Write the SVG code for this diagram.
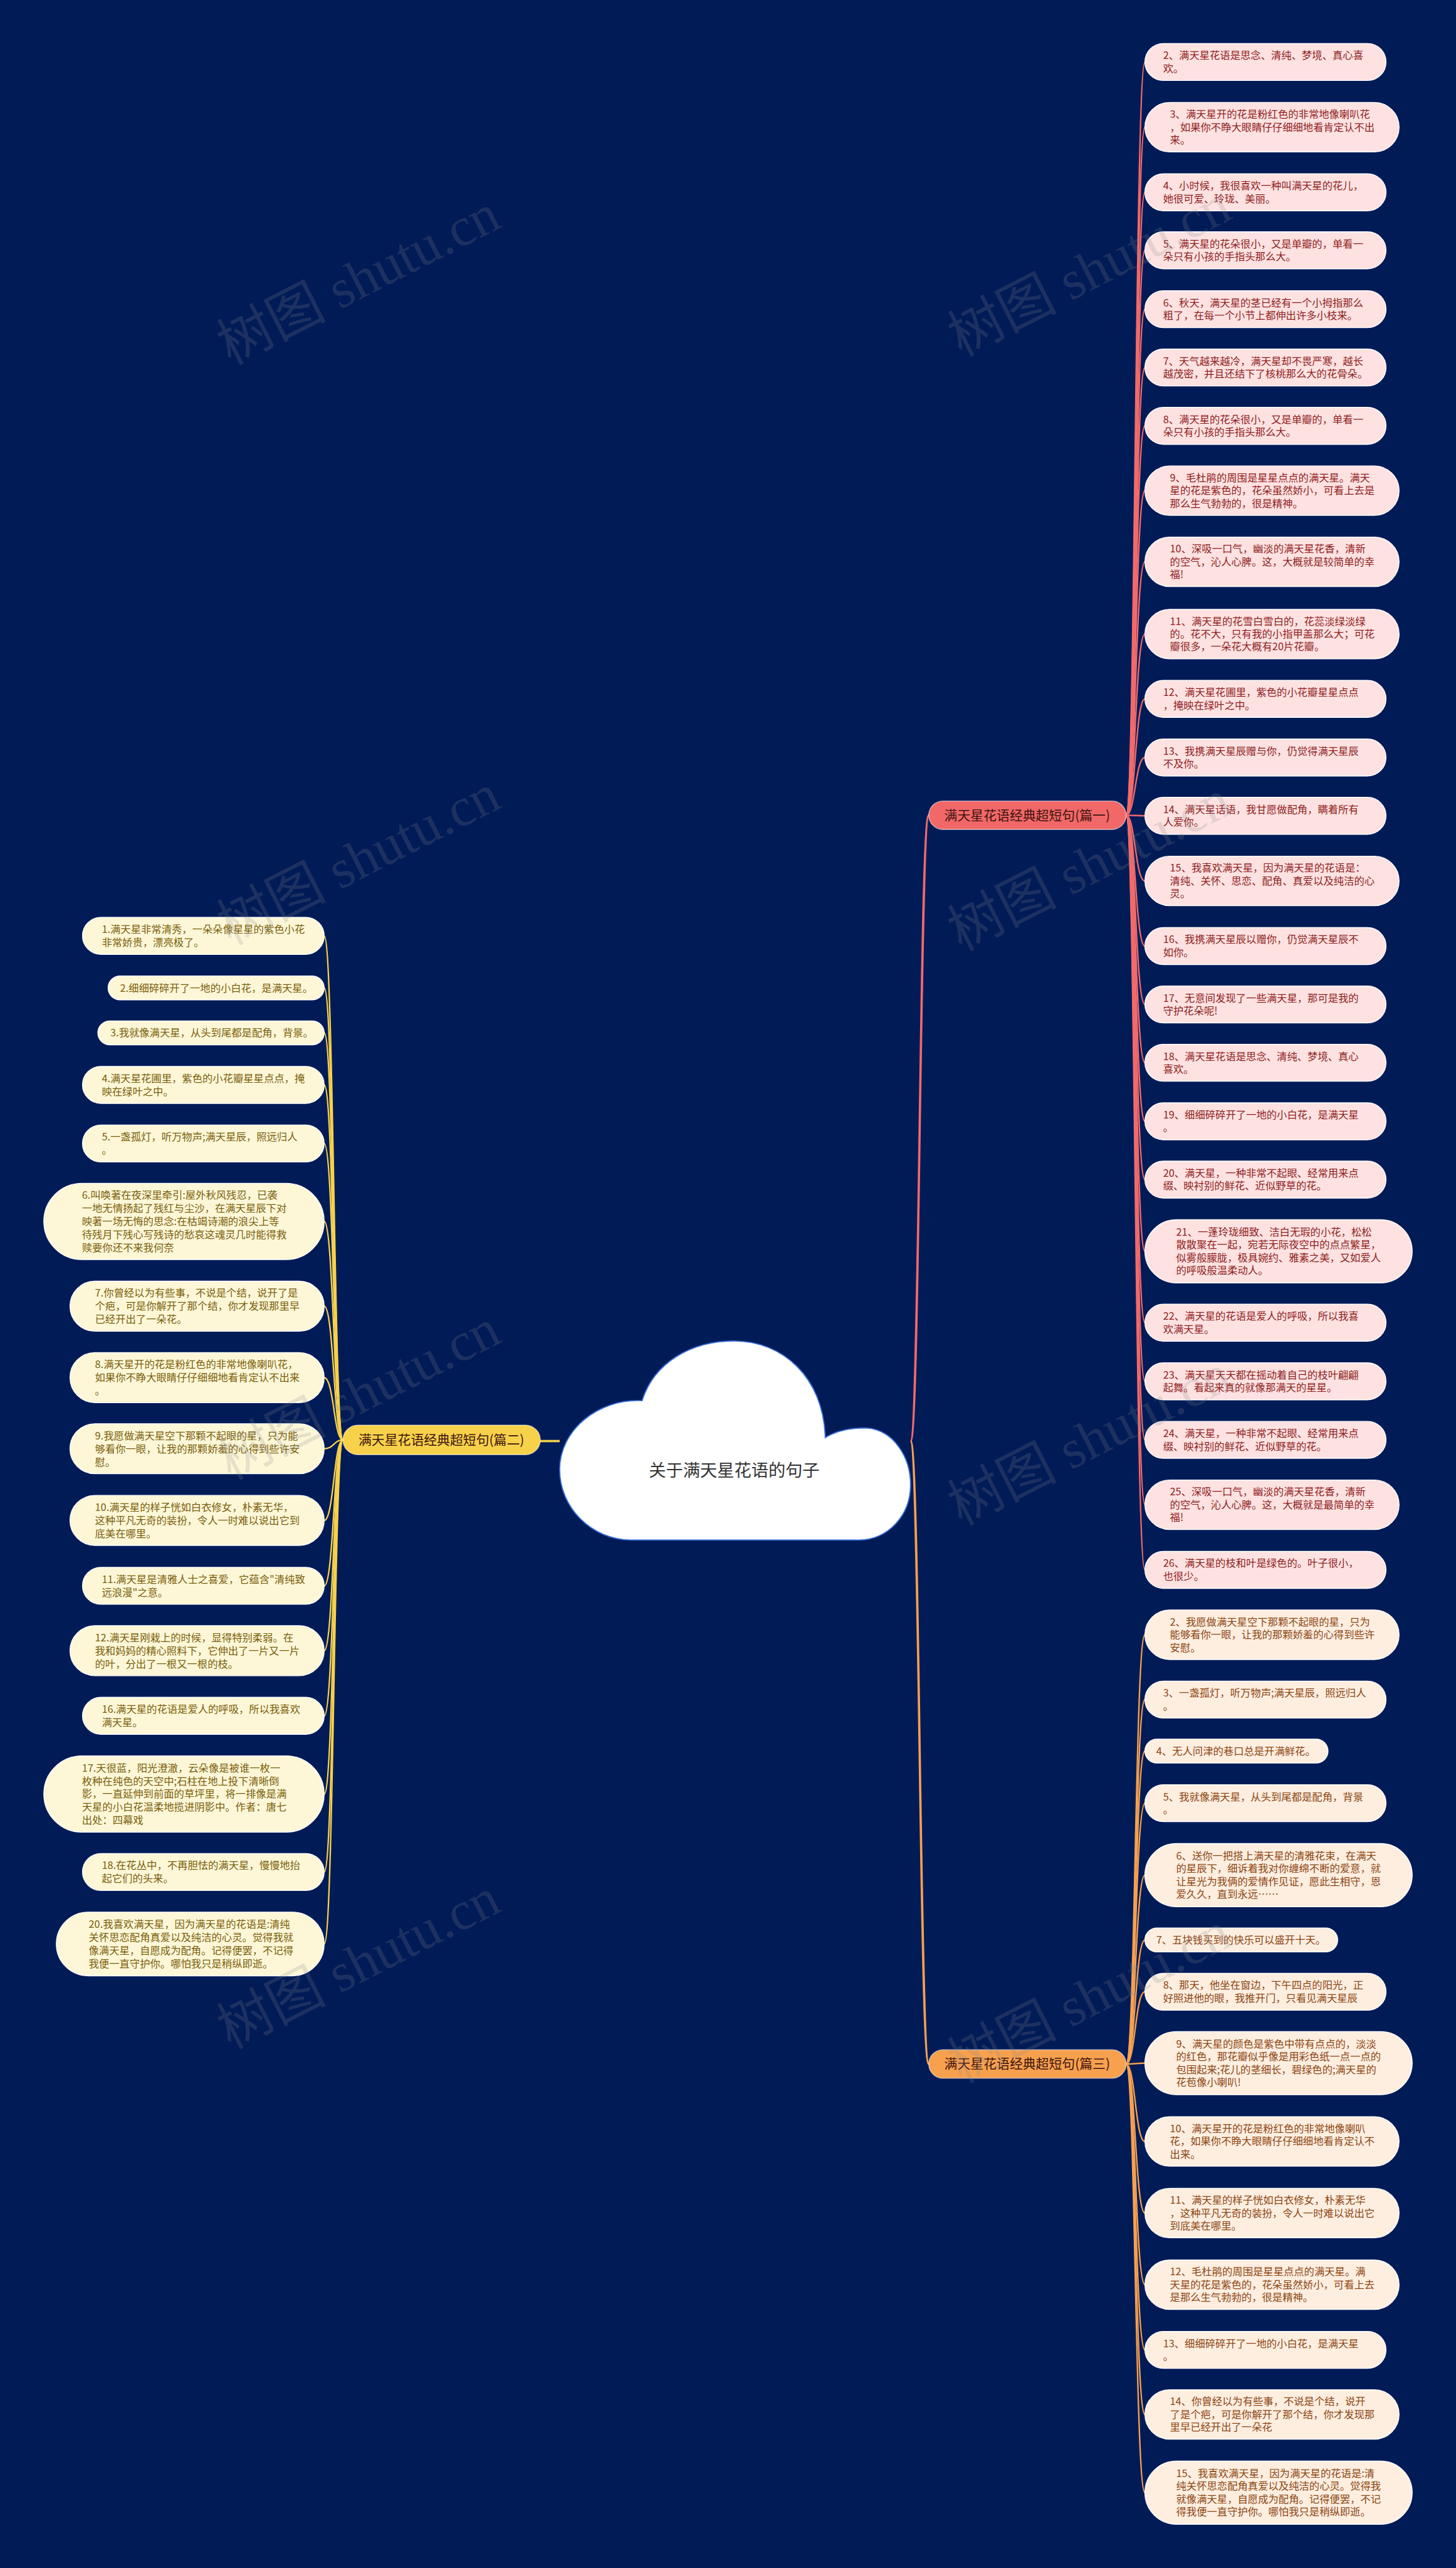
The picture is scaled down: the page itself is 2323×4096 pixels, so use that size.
<svg xmlns="http://www.w3.org/2000/svg" width="2323" height="4096" viewBox="0 0 2323 4096">
<style>
.lk1{fill:none;stroke:#f26a6a;stroke-width:2.6}
.lk2{fill:none;stroke:#f7d14a;stroke-width:2.6}
.lk3{fill:none;stroke:#f7a04e;stroke-width:2.6}
.main1{fill:none;stroke:#f26a6a;stroke-width:4}
.main2{fill:none;stroke:#f7d14a;stroke-width:4}
.main3{fill:none;stroke:#f7a04e;stroke-width:4}
.p1{fill:#fde2e1;stroke:#ffffff;stroke-width:1.5}
.p2{fill:#fdf7d8;stroke:#ffffff;stroke-width:1.5}
.p3{fill:#fdeee0;stroke:#ffffff;stroke-width:1.5}
.t1{font-family:"Noto Sans CJK SC","Noto Sans",sans-serif;font-size:18px;fill:#8f1d1d}
.t2{font-family:"Noto Sans CJK SC","Noto Sans",sans-serif;font-size:18px;fill:#7a5e0b}
.t3{font-family:"Noto Sans CJK SC","Noto Sans",sans-serif;font-size:18px;fill:#8c4512}
.bt{font-family:"Noto Sans CJK SC","Noto Sans",sans-serif;font-size:23px;fill:#3d1410;text-anchor:middle}
.wm{font-family:"Liberation Serif","Noto Sans CJK SC",serif;font-size:96px;fill:#8a8a8a;opacity:0.2}
</style>
<rect x="0" y="0" width="2323" height="4096" fill="#011b57"/>
<g transform="scale(0.907422)">

<g id="connectors">
<path class="main1" d="M1601 2533 C1617 2533 1617 1433 1633 1433"/>
<path class="main3" d="M1601 2533 C1617 2533 1617 3628 1633 3628"/>
<path class="main2" d="M984 2533 L950 2533"/>
<path class="lk1" d="M1980 1433 C1996 1433 1996 109 2013 109"/>
<path class="lk1" d="M1980 1433 C1996 1433 1996 223.5 2013 223.5"/>
<path class="lk1" d="M1980 1433 C1996 1433 1996 338 2013 338"/>
<path class="lk1" d="M1980 1433 C1996 1433 1996 440 2013 440"/>
<path class="lk1" d="M1980 1433 C1996 1433 1996 543.5 2013 543.5"/>
<path class="lk1" d="M1980 1433 C1996 1433 1996 646 2013 646"/>
<path class="lk1" d="M1980 1433 C1996 1433 1996 748.5 2013 748.5"/>
<path class="lk1" d="M1980 1433 C1996 1433 1996 862.5 2013 862.5"/>
<path class="lk1" d="M1980 1433 C1996 1433 1996 987.5 2013 987.5"/>
<path class="lk1" d="M1980 1433 C1996 1433 1996 1114.5 2013 1114.5"/>
<path class="lk1" d="M1980 1433 C1996 1433 1996 1228.5 2013 1228.5"/>
<path class="lk1" d="M1980 1433 C1996 1433 1996 1331.5 2013 1331.5"/>
<path class="lk1" d="M1980 1433 C1996 1433 1996 1434 2013 1434"/>
<path class="lk1" d="M1980 1433 C1996 1433 1996 1548.5 2013 1548.5"/>
<path class="lk1" d="M1980 1433 C1996 1433 1996 1663 2013 1663"/>
<path class="lk1" d="M1980 1433 C1996 1433 1996 1765.5 2013 1765.5"/>
<path class="lk1" d="M1980 1433 C1996 1433 1996 1868 2013 1868"/>
<path class="lk1" d="M1980 1433 C1996 1433 1996 1971 2013 1971"/>
<path class="lk1" d="M1980 1433 C1996 1433 1996 2073.5 2013 2073.5"/>
<path class="lk1" d="M1980 1433 C1996 1433 1996 2199.5 2013 2199.5"/>
<path class="lk1" d="M1980 1433 C1996 1433 1996 2325 2013 2325"/>
<path class="lk1" d="M1980 1433 C1996 1433 1996 2428 2013 2428"/>
<path class="lk1" d="M1980 1433 C1996 1433 1996 2531 2013 2531"/>
<path class="lk1" d="M1980 1433 C1996 1433 1996 2645 2013 2645"/>
<path class="lk1" d="M1980 1433 C1996 1433 1996 2759.5 2013 2759.5"/>
<path class="lk3" d="M1980 3628 C1996 3628 1996 2873.5 2013 2873.5"/>
<path class="lk3" d="M1980 3628 C1996 3628 1996 2987.5 2013 2987.5"/>
<path class="lk3" d="M1980 3628 C1996 3628 1996 3078 2013 3078"/>
<path class="lk3" d="M1980 3628 C1996 3628 1996 3169.5 2013 3169.5"/>
<path class="lk3" d="M1980 3628 C1996 3628 1996 3296 2013 3296"/>
<path class="lk3" d="M1980 3628 C1996 3628 1996 3410 2013 3410"/>
<path class="lk3" d="M1980 3628 C1996 3628 1996 3501 2013 3501"/>
<path class="lk3" d="M1980 3628 C1996 3628 1996 3626.5 2013 3626.5"/>
<path class="lk3" d="M1980 3628 C1996 3628 1996 3764 2013 3764"/>
<path class="lk3" d="M1980 3628 C1996 3628 1996 3890 2013 3890"/>
<path class="lk3" d="M1980 3628 C1996 3628 1996 4016 2013 4016"/>
<path class="lk3" d="M1980 3628 C1996 3628 1996 4130.5 2013 4130.5"/>
<path class="lk3" d="M1980 3628 C1996 3628 1996 4244 2013 4244"/>
<path class="lk3" d="M1980 3628 C1996 3628 1996 4381.5 2013 4381.5"/>
<path class="lk2" d="M603 2531 C587 2531 587 1645 570 1645"/>
<path class="lk2" d="M603 2531 C587 2531 587 1736.5 570 1736.5"/>
<path class="lk2" d="M603 2531 C587 2531 587 1815.5 570 1815.5"/>
<path class="lk2" d="M603 2531 C587 2531 587 1907 570 1907"/>
<path class="lk2" d="M603 2531 C587 2531 587 2010 570 2010"/>
<path class="lk2" d="M603 2531 C587 2531 587 2147 570 2147"/>
<path class="lk2" d="M603 2531 C587 2531 587 2296 570 2296"/>
<path class="lk2" d="M603 2531 C587 2531 587 2421.5 570 2421.5"/>
<path class="lk2" d="M603 2531 C587 2531 587 2546.5 570 2546.5"/>
<path class="lk2" d="M603 2531 C587 2531 587 2672.5 570 2672.5"/>
<path class="lk2" d="M603 2531 C587 2531 587 2787.5 570 2787.5"/>
<path class="lk2" d="M603 2531 C587 2531 587 2901.5 570 2901.5"/>
<path class="lk2" d="M603 2531 C587 2531 587 3016 570 3016"/>
<path class="lk2" d="M603 2531 C587 2531 587 3153.5 570 3153.5"/>
<path class="lk2" d="M603 2531 C587 2531 587 3290.5 570 3290.5"/>
<path class="lk2" d="M603 2531 C587 2531 587 3417 570 3417"/>
</g>

<g id="root">
<path d="M1129 2462 C1150 2395 1215 2357 1291 2357 C1375 2357 1448 2420 1451 2527 C1470 2515 1495 2510 1522 2510 C1570 2512 1601 2560 1601 2610 C1601 2665 1560 2707 1510 2707 L1110 2707 C1040 2707 984 2650 984 2583 C984 2515 1050 2458 1129 2462 Z" fill="#ffffff" stroke="#3a6fd8" stroke-width="2"/>
<text x="1291" y="2595" font-family="'Noto Sans CJK SC',sans-serif" font-size="30" fill="#333333" text-anchor="middle">关于满天星花语的句子</text>
</g>

<g id="branch1"><rect x="1633" y="1408" width="347" height="50" rx="25" fill="#f26868" stroke="#ffffff" stroke-opacity="0.6" stroke-width="1.5"/><text class="bt" x="1806" y="1441">满天星花语经典超短句(篇一)</text></g>
<g id="branch2"><rect x="603" y="2505" width="347" height="52" rx="26" fill="#f7d14a" stroke="#ffffff" stroke-opacity="0.6" stroke-width="1.5"/><text class="bt" x="776" y="2539">满天星花语经典超短句(篇二)</text></g>
<g id="branch3"><rect x="1633" y="3603" width="347" height="50" rx="25" fill="#f7a04e" stroke="#ffffff" stroke-opacity="0.6" stroke-width="1.5"/><text class="bt" x="1806" y="3636">满天星花语经典超短句(篇三)</text></g>

<g id="a2"><rect class="p1" x="2013" y="76.5" width="424" height="65" rx="32.5"/><text class="t1" x="2045" y="104"><tspan>2、满天星花语是思念、清纯、梦境、真心喜</tspan><tspan x="2045" dy="22.5">欢。</tspan></text></g>
<g id="a3"><rect class="p1" x="2013" y="180" width="447" height="87" rx="43.5"/><text class="t1" x="2057" y="207.3"><tspan>3、满天星开的花是粉红色的非常地像喇叭花</tspan><tspan x="2057" dy="22.5">，如果你不睁大眼睛仔仔细细地看肯定认不出</tspan><tspan x="2057" dy="22.5">来。</tspan></text></g>
<g id="a4"><rect class="p1" x="2013" y="305.5" width="424" height="65" rx="32.5"/><text class="t1" x="2045" y="333"><tspan>4、小时候，我很喜欢一种叫满天星的花儿，</tspan><tspan x="2045" dy="22.5">她很可爱、玲珑、美丽。</tspan></text></g>
<g id="a5"><rect class="p1" x="2013" y="407.5" width="424" height="65" rx="32.5"/><text class="t1" x="2045" y="435"><tspan>5、满天星的花朵很小，又是单瓣的，单看一</tspan><tspan x="2045" dy="22.5">朵只有小孩的手指头那么大。</tspan></text></g>
<g id="a6"><rect class="p1" x="2013" y="511" width="424" height="65" rx="32.5"/><text class="t1" x="2045" y="538.5"><tspan>6、秋天，满天星的茎已经有一个小拇指那么</tspan><tspan x="2045" dy="22.5">粗了，在每一个小节上都伸出许多小枝来。</tspan></text></g>
<g id="a7"><rect class="p1" x="2013" y="613.5" width="424" height="65" rx="32.5"/><text class="t1" x="2045" y="641"><tspan>7、天气越来越冷，满天星却不畏严寒，越长</tspan><tspan x="2045" dy="22.5">越茂密，并且还结下了核桃那么大的花骨朵。</tspan></text></g>
<g id="a8"><rect class="p1" x="2013" y="716" width="424" height="65" rx="32.5"/><text class="t1" x="2045" y="743.5"><tspan>8、满天星的花朵很小，又是单瓣的，单看一</tspan><tspan x="2045" dy="22.5">朵只有小孩的手指头那么大。</tspan></text></g>
<g id="a9"><rect class="p1" x="2013" y="819" width="447" height="87" rx="43.5"/><text class="t1" x="2057" y="846.3"><tspan>9、毛杜鹃的周围是星星点点的满天星。满天</tspan><tspan x="2057" dy="22.5">星的花是紫色的，花朵虽然娇小，可看上去是</tspan><tspan x="2057" dy="22.5">那么生气勃勃的，很是精神。</tspan></text></g>
<g id="a10"><rect class="p1" x="2013" y="944" width="447" height="87" rx="43.5"/><text class="t1" x="2057" y="971.3"><tspan>10、深吸一口气，幽淡的满天星花香，清新</tspan><tspan x="2057" dy="22.5">的空气，沁人心脾。这，大概就是较简单的幸</tspan><tspan x="2057" dy="22.5">福!</tspan></text></g>
<g id="a11"><rect class="p1" x="2013" y="1071" width="447" height="87" rx="43.5"/><text class="t1" x="2057" y="1098.3"><tspan>11、满天星的花雪白雪白的，花蕊淡绿淡绿</tspan><tspan x="2057" dy="22.5">的。花不大，只有我的小指甲盖那么大；可花</tspan><tspan x="2057" dy="22.5">瓣很多，一朵花大概有20片花瓣。</tspan></text></g>
<g id="a12"><rect class="p1" x="2013" y="1196" width="424" height="65" rx="32.5"/><text class="t1" x="2045" y="1223.5"><tspan>12、满天星花圃里，紫色的小花瓣星星点点</tspan><tspan x="2045" dy="22.5">，掩映在绿叶之中。</tspan></text></g>
<g id="a13"><rect class="p1" x="2013" y="1299" width="424" height="65" rx="32.5"/><text class="t1" x="2045" y="1326.5"><tspan>13、我携满天星辰赠与你，仍觉得满天星辰</tspan><tspan x="2045" dy="22.5">不及你。</tspan></text></g>
<g id="a14"><rect class="p1" x="2013" y="1401.5" width="424" height="65" rx="32.5"/><text class="t1" x="2045" y="1429"><tspan>14、满天星话语，我甘愿做配角，瞒着所有</tspan><tspan x="2045" dy="22.5">人爱你。</tspan></text></g>
<g id="a15"><rect class="p1" x="2013" y="1505" width="447" height="87" rx="43.5"/><text class="t1" x="2057" y="1532.3"><tspan>15、我喜欢满天星，因为满天星的花语是：</tspan><tspan x="2057" dy="22.5">清纯、关怀、思恋、配角、真爱以及纯洁的心</tspan><tspan x="2057" dy="22.5">灵。</tspan></text></g>
<g id="a16"><rect class="p1" x="2013" y="1630.5" width="424" height="65" rx="32.5"/><text class="t1" x="2045" y="1658"><tspan>16、我携满天星辰以赠你，仍觉满天星辰不</tspan><tspan x="2045" dy="22.5">如你。</tspan></text></g>
<g id="a17"><rect class="p1" x="2013" y="1733" width="424" height="65" rx="32.5"/><text class="t1" x="2045" y="1760.5"><tspan>17、无意间发现了一些满天星，那可是我的</tspan><tspan x="2045" dy="22.5">守护花朵呢!</tspan></text></g>
<g id="a18"><rect class="p1" x="2013" y="1835.5" width="424" height="65" rx="32.5"/><text class="t1" x="2045" y="1863"><tspan>18、满天星花语是思念、清纯、梦境、真心</tspan><tspan x="2045" dy="22.5">喜欢。</tspan></text></g>
<g id="a19"><rect class="p1" x="2013" y="1938.5" width="424" height="65" rx="32.5"/><text class="t1" x="2045" y="1966"><tspan>19、细细碎碎开了一地的小白花，是满天星</tspan><tspan x="2045" dy="22.5">。</tspan></text></g>
<g id="a20"><rect class="p1" x="2013" y="2041" width="424" height="65" rx="32.5"/><text class="t1" x="2045" y="2068.5"><tspan>20、满天星，一种非常不起眼、经常用来点</tspan><tspan x="2045" dy="22.5">缀、映衬别的鲜花、近似野草的花。</tspan></text></g>
<g id="a21"><rect class="p1" x="2013" y="2144" width="470" height="111" rx="55.5"/><text class="t1" x="2068" y="2172"><tspan>21、一蓬玲珑细致、洁白无瑕的小花，松松</tspan><tspan x="2068" dy="22.5">散散聚在一起，宛若无际夜空中的点点繁星，</tspan><tspan x="2068" dy="22.5">似雾般朦胧，极具婉约、雅素之美，又如爱人</tspan><tspan x="2068" dy="22.5">的呼吸般温柔动人。</tspan></text></g>
<g id="a22"><rect class="p1" x="2013" y="2292.5" width="424" height="65" rx="32.5"/><text class="t1" x="2045" y="2320"><tspan>22、满天星的花语是爱人的呼吸，所以我喜</tspan><tspan x="2045" dy="22.5">欢满天星。</tspan></text></g>
<g id="a23"><rect class="p1" x="2013" y="2395.5" width="424" height="65" rx="32.5"/><text class="t1" x="2045" y="2423"><tspan>23、满天星天天都在摇动着自己的枝叶翩翩</tspan><tspan x="2045" dy="22.5">起舞。看起来真的就像那满天的星星。</tspan></text></g>
<g id="a24"><rect class="p1" x="2013" y="2498.5" width="424" height="65" rx="32.5"/><text class="t1" x="2045" y="2526"><tspan>24、满天星，一种非常不起眼、经常用来点</tspan><tspan x="2045" dy="22.5">缀、映衬别的鲜花、近似野草的花。</tspan></text></g>
<g id="a25"><rect class="p1" x="2013" y="2601.5" width="447" height="87" rx="43.5"/><text class="t1" x="2057" y="2628.8"><tspan>25、深吸一口气，幽淡的满天星花香，清新</tspan><tspan x="2057" dy="22.5">的空气，沁人心脾。这，大概就是最简单的幸</tspan><tspan x="2057" dy="22.5">福!</tspan></text></g>
<g id="a26"><rect class="p1" x="2013" y="2727" width="424" height="65" rx="32.5"/><text class="t1" x="2045" y="2754.5"><tspan>26、满天星的枝和叶是绿色的。叶子很小，</tspan><tspan x="2045" dy="22.5">也很少。</tspan></text></g>

<g id="c2"><rect class="p3" x="2013" y="2830" width="447" height="87" rx="43.5"/><text class="t3" x="2057" y="2857.3"><tspan>2、我愿做满天星空下那颗不起眼的星，只为</tspan><tspan x="2057" dy="22.5">能够看你一眼，让我的那颗娇羞的心得到些许</tspan><tspan x="2057" dy="22.5">安慰。</tspan></text></g>
<g id="c3"><rect class="p3" x="2013" y="2955" width="424" height="65" rx="32.5"/><text class="t3" x="2045" y="2982.5"><tspan>3、一盏孤灯，听万物声;满天星辰，照远归人</tspan><tspan x="2045" dy="22.5">。</tspan></text></g>
<g id="c4"><rect class="p3" x="2013" y="3057" width="322" height="42" rx="21"/><text class="t3" x="2033" y="3084.5">4、无人问津的巷口总是开满鲜花。</text></g>
<g id="c5"><rect class="p3" x="2013" y="3137" width="424" height="65" rx="32.5"/><text class="t3" x="2045" y="3164.5"><tspan>5、我就像满天星，从头到尾都是配角，背景</tspan><tspan x="2045" dy="22.5">。</tspan></text></g>
<g id="c6"><rect class="p3" x="2013" y="3240.5" width="470" height="111" rx="55.5"/><text class="t3" x="2068" y="3268.5"><tspan>6、送你一把搭上满天星的清雅花束，在满天</tspan><tspan x="2068" dy="22.5">的星辰下，细诉着我对你缠绵不断的爱意，就</tspan><tspan x="2068" dy="22.5">让星光为我俩的爱情作见证，愿此生相守，恩</tspan><tspan x="2068" dy="22.5">爱久久，直到永远……</tspan></text></g>
<g id="c7"><rect class="p3" x="2013" y="3389" width="339" height="42" rx="21"/><text class="t3" x="2033" y="3416.5">7、五块钱买到的快乐可以盛开十天。</text></g>
<g id="c8"><rect class="p3" x="2013" y="3468.5" width="424" height="65" rx="32.5"/><text class="t3" x="2045" y="3496"><tspan>8、那天，他坐在窗边，下午四点的阳光，正</tspan><tspan x="2045" dy="22.5">好照进他的眼，我推开门，只看见满天星辰</tspan></text></g>
<g id="c9"><rect class="p3" x="2013" y="3571" width="470" height="111" rx="55.5"/><text class="t3" x="2068" y="3599"><tspan>9、满天星的颜色是紫色中带有点点的，淡淡</tspan><tspan x="2068" dy="22.5">的红色，那花瓣似乎像是用彩色纸一点一点的</tspan><tspan x="2068" dy="22.5">包围起来;花儿的茎细长，碧绿色的;满天星的</tspan><tspan x="2068" dy="22.5">花苞像小喇叭!</tspan></text></g>
<g id="c10"><rect class="p3" x="2013" y="3720.5" width="447" height="87" rx="43.5"/><text class="t3" x="2057" y="3747.8"><tspan>10、满天星开的花是粉红色的非常地像喇叭</tspan><tspan x="2057" dy="22.5">花，如果你不睁大眼睛仔仔细细地看肯定认不</tspan><tspan x="2057" dy="22.5">出来。</tspan></text></g>
<g id="c11"><rect class="p3" x="2013" y="3846.5" width="447" height="87" rx="43.5"/><text class="t3" x="2057" y="3873.8"><tspan>11、满天星的样子恍如白衣修女，朴素无华</tspan><tspan x="2057" dy="22.5">，这种平凡无奇的装扮，令人一时难以说出它</tspan><tspan x="2057" dy="22.5">到底美在哪里。</tspan></text></g>
<g id="c12"><rect class="p3" x="2013" y="3972.5" width="447" height="87" rx="43.5"/><text class="t3" x="2057" y="3999.8"><tspan>12、毛杜鹃的周围是星星点点的满天星。满</tspan><tspan x="2057" dy="22.5">天星的花是紫色的，花朵虽然娇小，可看上去</tspan><tspan x="2057" dy="22.5">是那么生气勃勃的，很是精神。</tspan></text></g>
<g id="c13"><rect class="p3" x="2013" y="4098" width="424" height="65" rx="32.5"/><text class="t3" x="2045" y="4125.5"><tspan>13、细细碎碎开了一地的小白花，是满天星</tspan><tspan x="2045" dy="22.5">。</tspan></text></g>
<g id="c14"><rect class="p3" x="2013" y="4200.5" width="447" height="87" rx="43.5"/><text class="t3" x="2057" y="4227.8"><tspan>14、你曾经以为有些事，不说是个结，说开</tspan><tspan x="2057" dy="22.5">了是个疤，可是你解开了那个结，你才发现那</tspan><tspan x="2057" dy="22.5">里早已经开出了一朵花</tspan></text></g>
<g id="c15"><rect class="p3" x="2013" y="4326" width="470" height="111" rx="55.5"/><text class="t3" x="2068" y="4354"><tspan>15、我喜欢满天星，因为满天星的花语是:清</tspan><tspan x="2068" dy="22.5">纯关怀思恋配角真爱以及纯洁的心灵。觉得我</tspan><tspan x="2068" dy="22.5">就像满天星，自愿成为配角。记得便罢，不记</tspan><tspan x="2068" dy="22.5">得我便一直守护你。哪怕我只是稍纵即逝。</tspan></text></g>

<g id="b1"><rect class="p2" x="145" y="1612.5" width="425" height="65" rx="32.5"/><text class="t2" x="179" y="1640"><tspan>1.满天星非常清秀，一朵朵像星星的紫色小花</tspan><tspan x="179" dy="23">非常娇贵，漂亮极了。</tspan></text></g>
<g id="b2"><rect class="p2" x="190" y="1715.5" width="380" height="42" rx="21"/><text class="t2" x="211" y="1743">2.细细碎碎开了一地的小白花，是满天星。</text></g>
<g id="b3"><rect class="p2" x="172" y="1794.5" width="398" height="42" rx="21"/><text class="t2" x="194" y="1822">3.我就像满天星，从头到尾都是配角，背景。</text></g>
<g id="b4"><rect class="p2" x="145" y="1874.5" width="425" height="65" rx="32.5"/><text class="t2" x="179" y="1902"><tspan>4.满天星花圃里，紫色的小花瓣星星点点，掩</tspan><tspan x="179" dy="23">映在绿叶之中。</tspan></text></g>
<g id="b5"><rect class="p2" x="145" y="1977.5" width="425" height="65" rx="32.5"/><text class="t2" x="179" y="2005"><tspan>5.一盏孤灯，听万物声;满天星辰，照远归人</tspan><tspan x="179" dy="23">。</tspan></text></g>
<g id="b6"><rect class="p2" x="77" y="2080" width="493" height="134" rx="67"/><text class="t2" x="144" y="2107.5"><tspan>6.叫唤著在夜深里牵引:屋外秋风残忍，已袭</tspan><tspan x="144" dy="23">一地无情扬起了残红与尘沙，在满天星辰下对</tspan><tspan x="144" dy="23">映著一场无悔的思念:在枯竭诗潮的浪尖上等</tspan><tspan x="144" dy="23">待残月下残心写残诗的愁哀这魂灵几时能得救</tspan><tspan x="144" dy="23">赎要你还不来我何奈</tspan></text></g>
<g id="b7"><rect class="p2" x="123" y="2252" width="447" height="88" rx="44"/><text class="t2" x="167" y="2279.5"><tspan>7.你曾经以为有些事，不说是个结，说开了是</tspan><tspan x="167" dy="23">个疤，可是你解开了那个结，你才发现那里早</tspan><tspan x="167" dy="23">已经开出了一朵花。</tspan></text></g>
<g id="b8"><rect class="p2" x="123" y="2377.5" width="447" height="88" rx="44"/><text class="t2" x="167" y="2405"><tspan>8.满天星开的花是粉红色的非常地像喇叭花，</tspan><tspan x="167" dy="23">如果你不睁大眼睛仔仔细细地看肯定认不出来</tspan><tspan x="167" dy="23">。</tspan></text></g>
<g id="b9"><rect class="p2" x="123" y="2502.5" width="447" height="88" rx="44"/><text class="t2" x="167" y="2530"><tspan>9.我愿做满天星空下那颗不起眼的星，只为能</tspan><tspan x="167" dy="23">够看你一眼，让我的那颗娇羞的心得到些许安</tspan><tspan x="167" dy="23">慰。</tspan></text></g>
<g id="b10"><rect class="p2" x="123" y="2628.5" width="447" height="88" rx="44"/><text class="t2" x="167" y="2656"><tspan>10.满天星的样子恍如白衣修女，朴素无华，</tspan><tspan x="167" dy="23">这种平凡无奇的装扮，令人一时难以说出它到</tspan><tspan x="167" dy="23">底美在哪里。</tspan></text></g>
<g id="b11"><rect class="p2" x="145" y="2755" width="425" height="65" rx="32.5"/><text class="t2" x="179" y="2782.5"><tspan>11.满天星是清雅人士之喜爱，它蕴含"清纯致</tspan><tspan x="179" dy="23">远浪漫"之意。</tspan></text></g>
<g id="b12"><rect class="p2" x="123" y="2857.5" width="447" height="88" rx="44"/><text class="t2" x="167" y="2885"><tspan>12.满天星刚栽上的时候，显得特别柔弱。在</tspan><tspan x="167" dy="23">我和妈妈的精心照料下，它伸出了一片又一片</tspan><tspan x="167" dy="23">的叶，分出了一根又一根的枝。</tspan></text></g>
<g id="b16"><rect class="p2" x="145" y="2983.5" width="425" height="65" rx="32.5"/><text class="t2" x="179" y="3011"><tspan>16.满天星的花语是爱人的呼吸，所以我喜欢</tspan><tspan x="179" dy="23">满天星。</tspan></text></g>
<g id="b17"><rect class="p2" x="77" y="3086.5" width="493" height="134" rx="67"/><text class="t2" x="144" y="3114"><tspan>17.天很蓝，阳光澄澈，云朵像是被谁一枚一</tspan><tspan x="144" dy="23">枚种在纯色的天空中;石柱在地上投下清晰倒</tspan><tspan x="144" dy="23">影，一直延伸到前面的草坪里，将一排像是满</tspan><tspan x="144" dy="23">天星的小白花温柔地揽进阴影中。作者：唐七</tspan><tspan x="144" dy="23">出处：四幕戏</tspan></text></g>
<g id="b18"><rect class="p2" x="145" y="3258" width="425" height="65" rx="32.5"/><text class="t2" x="179" y="3285.5"><tspan>18.在花丛中，不再胆怯的满天星，慢慢地抬</tspan><tspan x="179" dy="23">起它们的头来。</tspan></text></g>
<g id="b20"><rect class="p2" x="99" y="3361" width="471" height="112" rx="56"/><text class="t2" x="156" y="3389"><tspan>20.我喜欢满天星，因为满天星的花语是:清纯</tspan><tspan x="156" dy="23">关怀思恋配角真爱以及纯洁的心灵。觉得我就</tspan><tspan x="156" dy="23">像满天星，自愿成为配角。记得便罢，不记得</tspan><tspan x="156" dy="23">我便一直守护你。哪怕我只是稍纵即逝。</tspan></text></g>

<g id="watermarks">
<text class="wm" transform="translate(645 520) rotate(-27)" text-anchor="middle">树图 shutu.cn</text>
<text class="wm" transform="translate(1930 505) rotate(-27)" text-anchor="middle">树图 shutu.cn</text>
<text class="wm" transform="translate(645 1540) rotate(-27)" text-anchor="middle">树图 shutu.cn</text>
<text class="wm" transform="translate(1930 1550) rotate(-27)" text-anchor="middle">树图 shutu.cn</text>
<text class="wm" transform="translate(645 2480) rotate(-27)" text-anchor="middle">树图 shutu.cn</text>
<text class="wm" transform="translate(1930 2560) rotate(-27)" text-anchor="middle">树图 shutu.cn</text>
<text class="wm" transform="translate(645 3480) rotate(-27)" text-anchor="middle">树图 shutu.cn</text>
<text class="wm" transform="translate(1930 3540) rotate(-27)" text-anchor="middle">树图 shutu.cn</text>
</g>
</g>
</svg>
